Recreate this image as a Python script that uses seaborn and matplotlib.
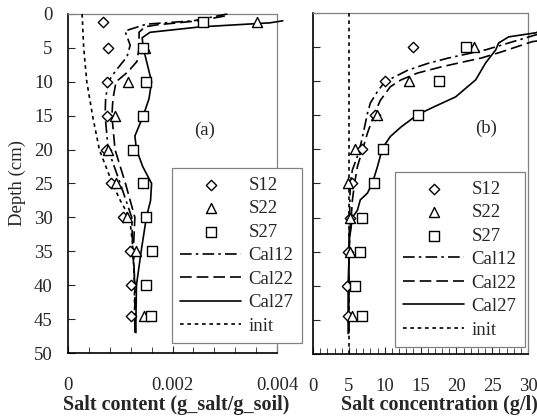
import numpy as np
import matplotlib
matplotlib.use("Agg")
import matplotlib.pyplot as plt
import seaborn as sns
from matplotlib.ticker import MultipleLocator

# sample depths (cm)
depth_s = [1.2, 5, 10, 15, 20, 25, 30, 35, 40, 44.5]

# (a) measured salt content (g_salt/g_soil)
s12_a = [0.00067, 0.00077, 0.00074, 0.00075, 0.00073, 0.00082, 0.00105, 0.00119, 0.00120, 0.00120]
s22_a = [0.00361, 0.00147, 0.00114, 0.00090, 0.00077, 0.00092, 0.00112, 0.00131, np.nan, 0.00146]
s27_a = [0.00258, 0.00143, 0.00149, 0.00143, 0.00125, 0.00143, 0.00149, 0.00161, 0.00149, 0.00158]

# (b) measured salt concentration (g/l)
s12_b = [np.nan, 13.9, 10.0, 8.7, 6.8, 5.5, 5.1, 4.9, 4.7, 4.9]
s22_b = [np.nan, 22.4, 13.4, 8.9, 5.8, 4.9, 5.1, 5.1, np.nan, 5.5]
s27_b = [np.nan, 21.4, 17.6, 14.6, 9.7, 8.5, 6.8, 6.6, 5.9, 6.8]

# (a) calculated profiles
cal12_a_d = [0, 1.0, 1.5, 2.5, 4.6, 6.3, 8.5, 10, 12.5, 15, 20, 25, 30, 35, 40, 47]
cal12_a = [0.00305, 0.0024, 0.0015, 0.00109, 0.00119, 0.00113, 0.0009, 0.00077, 0.00072, 0.00071,
           0.00077, 0.0010, 0.00122, 0.00124, 0.00128, 0.00128]
cal22_a_d = [0.3, 1.0, 1.6, 1.9, 2.7, 5, 7, 8.5, 10, 12.5, 15, 20, 25, 30, 35, 40, 47]
cal22_a = [0.0030, 0.0025, 0.0017, 0.00147, 0.00136, 0.00136, 0.00132, 0.00115, 0.00092, 0.00086,
           0.00084, 0.0009, 0.0011, 0.00128, 0.00125, 0.00128, 0.00128]
cal27_a_d = [1.0, 1.3, 1.9, 2.7, 3.5, 5, 7.5, 10, 12.5, 15, 18, 20, 22.5, 25, 27.5, 30, 35, 40, 45, 47]
cal27_a = [0.00411, 0.00387, 0.00253, 0.00157, 0.00142, 0.00144, 0.00152, 0.0016, 0.00155, 0.00144,
           0.00128, 0.00131, 0.00143, 0.0016, 0.00158, 0.0015, 0.0014, 0.00131, 0.0013, 0.0013]
init_a_d = [0, 5, 10, 15, 20, 25, 27.5, 30, 35, 40, 47]
init_a = [0.00027, 0.0003, 0.00036, 0.00047, 0.0006, 0.00085, 0.001, 0.00118, 0.00125, 0.00127, 0.00128]

# (b) calculated profiles
cal12_b_d = [3.0, 3.2, 5.4, 6.6, 7.4, 8.4, 10.1, 11.5, 13.2, 14.7, 17.2, 19.1, 21, 23, 25, 30, 35, 47]
cal12_b = [32, 31.1, 24.1, 18.9, 16, 13.2, 10.0, 9.0, 8.0, 7.6, 7.1, 6.7, 6.2, 5.5, 5.2, 5.1, 5.0, 5.0]
cal22_b_d = [4.0, 4.2, 5.7, 6.6, 7.1, 7.9, 8.8, 9.8, 10.8, 12.8, 14.7, 17.6, 20.1, 22.5, 25, 27.4, 35, 47]
cal22_b = [32, 30.6, 26.3, 23.5, 21.3, 17.9, 14.6, 12.3, 10.8, 9.4, 8.6, 7.6, 6.9, 6.2, 5.8, 5.5, 5.0, 5.0]
cal27_b_d = [2.5, 2.9, 3.5, 4.4, 5.4, 7.3, 9.8, 12.3, 13.7, 14.9, 16.7, 18.1, 19.8, 22.5, 24.9, 26.4,
             27.4, 28.9, 30, 33, 40, 47]
cal27_b = [32, 31.1, 27.3, 25.9, 25.5, 24.1, 22.7, 19.9, 17.0, 14.6, 12.3, 10.8, 9.7, 9.0, 8.3, 7.6,
           6.6, 6.2, 5.5, 5.1, 4.9, 4.9]
init_b_d = [0, 50]
init_b = [5, 5]

FS = 13.5
FS_LAB = 14.5

sns.set_style("ticks")
plt.rcParams['font.family'] = ['Liberation Serif', 'DejaVu Serif']
plt.rcParams['font.size'] = FS

fig = plt.figure(figsize=(5.37, 4.19), dpi=100)
W, H = 537, 419
ax_a = fig.add_axes([68 / W, 1 - 353 / H, 209 / W, 339 / H])
ax_b = fig.add_axes([313 / W, 1 - 354 / H, 215 / W, 341 / H])

styles = {
    'Cal12': (0, (7, 2.5, 1.5, 2.5)),
    'Cal22': (0, (7, 3)),
    'Cal27': '-',
    'init': (0, (2.2, 2.2)),
}


def draw_panel(ax, s12, s22, s27, lines):
    sns.scatterplot(x=s12, y=depth_s, ax=ax, marker='D', s=28, facecolor='white',
                    edgecolor='black', linewidth=1, label='S12', clip_on=False, zorder=4)
    sns.scatterplot(x=s22, y=depth_s, ax=ax, marker='^', s=52, facecolor='white',
                    edgecolor='black', linewidth=1, label='S22', clip_on=False, zorder=4)
    sns.scatterplot(x=s27, y=depth_s, ax=ax, marker='s', s=42, facecolor='white',
                    edgecolor='black', linewidth=1, label='S27', clip_on=False, zorder=4)
    for name, xs, ds in lines:
        sns.lineplot(x=xs, y=ds, ax=ax, orient='y', sort=False, estimator=None,
                     color='black', linewidth=1.2, linestyle=styles[name],
                     label=name, clip_on=False, zorder=3)
    ax.set_ylim(50, 0)
    ax.yaxis.set_major_locator(MultipleLocator(5))
    for side in ['left', 'bottom']:
        ax.spines[side].set_color('black')
        ax.spines[side].set_linewidth(1.2)
    for side in ['top', 'right']:
        ax.spines[side].set_visible(True)
        ax.spines[side].set_color('#808080')
        ax.spines[side].set_linewidth(0.9)
    ax.tick_params(axis='both', which='both', direction='in', labelsize=FS)
    ax.tick_params(axis='x', which='major', length=5, pad=17.5)
    ax.tick_params(axis='x', which='minor', length=4)
    ax.tick_params(axis='y', which='major', length=5, pad=11)


draw_panel(ax_a, s12_a, s22_a, s27_a,
           [('Cal12', cal12_a, cal12_a_d), ('Cal22', cal22_a, cal22_a_d),
            ('Cal27', cal27_a, cal27_a_d), ('init', init_a, init_a_d)])
ax_a.set_xlim(0, 0.004)
ax_a.set_xticks([0, 0.002, 0.004])
ax_a.set_xticklabels(['0', '0.002', '0.004'])
ax_a.xaxis.set_minor_locator(MultipleLocator(0.0004))
ax_a.set_xlabel('Salt content (g_salt/g_soil)', fontweight='bold', fontsize=FS_LAB)
ax_a.xaxis.set_label_coords(0.519, -0.154, transform=ax_a.transAxes)
ax_a.xaxis.label.set_va('center')
ax_a.set_ylabel('Depth (cm)', fontsize=FS, labelpad=6)
ax_a.text(0.00262, 17.1, '(a)', ha='center', va='center', fontsize=FS)

draw_panel(ax_b, s12_b, s22_b, s27_b,
           [('Cal12', cal12_b, cal12_b_d), ('Cal22', cal22_b, cal22_b_d),
            ('Cal27', cal27_b, cal27_b_d), ('init', init_b, init_b_d)])
ax_b.set_xlim(0, 30)
ax_b.xaxis.set_major_locator(MultipleLocator(5))
ax_b.xaxis.set_minor_locator(MultipleLocator(1))
ax_b.set_yticklabels([])
ax_b.set_ylabel('')
ax_b.set_xlabel('Salt concentration (g/l)', fontweight='bold', fontsize=FS_LAB)
ax_b.xaxis.set_label_coords(0.586, -0.151, transform=ax_b.transAxes)
ax_b.xaxis.label.set_va('center')
ax_b.text(24.1, 16.9, '(b)', ha='center', va='center', fontsize=FS)

for ax, (lx, ly) in [(ax_a, (172, 168)), (ax_b, (395, 172))]:
    h, l = ax.get_legend_handles_labels()
    leg = ax.legend(h, l, loc='upper left', bbox_to_anchor=(lx / W, 1 - ly / H),
                    bbox_transform=fig.transFigure, frameon=True, fancybox=False,
                    edgecolor='#808080', framealpha=1, fontsize=FS, handlelength=3.25,
                    handletextpad=0.37, labelspacing=0.34, borderpad=0.45, borderaxespad=0)
    leg.get_frame().set_linewidth(0.9)
    leg.set_zorder(10)

fig.savefig('out.png', dpi=100)
